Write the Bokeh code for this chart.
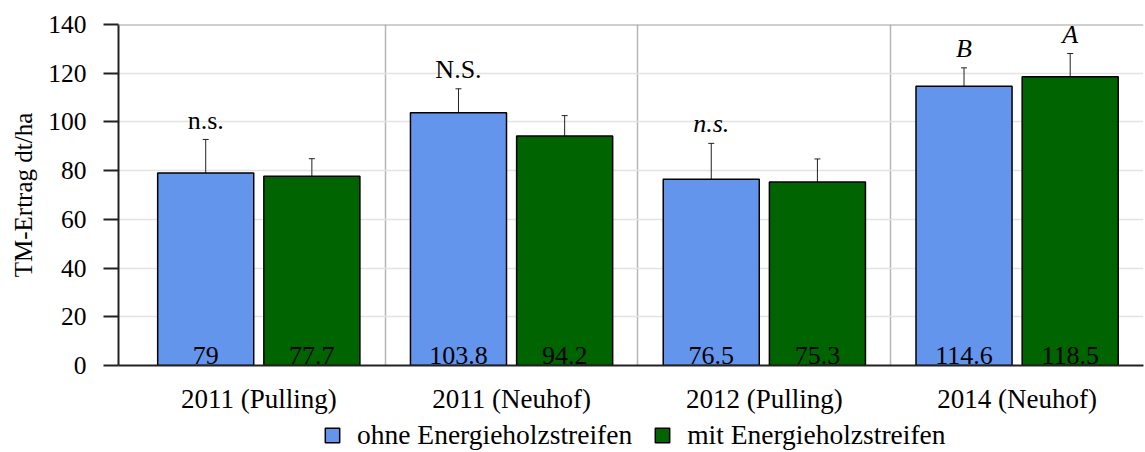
from bokeh.plotting import figure
from bokeh.layouts import column
from bokeh.models import (ColumnDataSource, Range1d, FixedTicker, Whisker, TeeHead,
                          Legend, LegendItem, Span, BoxAnnotation)
from bokeh.transform import dodge
from bokeh.core.properties import value
from bokeh.embed import file_html
from bokeh.resources import INLINE

categories = ["2011 (Pulling)", "2011 (Neuhof)", "2012 (Pulling)", "2014 (Neuhof)"]
ohne = [79.0, 103.8, 76.5, 114.6]
mit = [77.7, 94.2, 75.3, 118.5]
ohne_err = [13.8, 9.8, 14.7, 7.6]
mit_err = [7.2, 8.4, 9.5, 9.6]
ohne_labels = ["79", "103.8", "76.5", "114.6"]
mit_labels = ["77.7", "94.2", "75.3", "118.5"]
sig_text = ["n.s.", "N.S.", "n.s.", "B"]
sig_style = ["normal", "normal", "italic", "italic"]
sig_mit_text = ["", "", "", "A"]
series_names = ["ohne Energieholzstreifen", "mit Energieholzstreifen"]

FONT = "Liberation Serif"
BLUE = "#6495ED"
GREEN = "#006400"
OFF = 0.21
W = 0.38

xs = [i + 0.5 for i in range(len(categories))]

src = ColumnDataSource(dict(
    x=xs, ohne=ohne, mit=mit,
    ohne_lo=[v - e for v, e in zip(ohne, ohne_err)],
    ohne_hi=[v + e for v, e in zip(ohne, ohne_err)],
    mit_lo=[v - e for v, e in zip(mit, mit_err)],
    mit_hi=[v + e for v, e in zip(mit, mit_err)],
    ohne_lab=ohne_labels, mit_lab=mit_labels,
    base=[0.6] * len(xs),
))

p = figure(width=1145, height=420, output_backend="svg", toolbar_location=None,
           x_range=Range1d(-0.055, 4.0), y_range=Range1d(0, 140),
           min_border_left=118, min_border_right=2, min_border_top=24,
           min_border_bottom=55)
p.outline_line_color = None
p.background_fill_color = "white"

r1 = p.vbar(x=dodge("x", -OFF), top="ohne", width=W, source=src,
            fill_color=BLUE, line_color="black", line_width=1.5)
r2 = p.vbar(x=dodge("x", OFF), top="mit", width=W, source=src,
            fill_color=GREEN, line_color="black", line_width=1.5)

for lo, hi, off in (("ohne_lo", "ohne_hi", -OFF), ("mit_lo", "mit_hi", OFF)):
    wk = Whisker(base=dodge("x", off), lower=lo, upper=hi, source=src,
                 line_color="#222222", line_width=1,
                 upper_head=TeeHead(size=6, line_color="#222222", line_width=1),
                 lower_head=TeeHead(size=6, line_color="#222222", line_width=1))
    p.add_layout(wk)

# value labels inside bars
p.text(x=dodge("x", -OFF), y="base", text="ohne_lab", source=src,
       text_font=value(FONT), text_font_size="26px", text_align="center",
       text_baseline="bottom", text_color="black")
p.text(x=dodge("x", OFF), y="base", text="mit_lab", source=src,
       text_font=value(FONT), text_font_size="26px", text_align="center",
       text_baseline="bottom", text_color="black")

# significance labels
for i in range(len(xs)):
    p.text(x=[xs[i] - OFF], y=[ohne[i] + ohne_err[i] + 2.0], text=[sig_text[i]],
           text_font=value(FONT), text_font_size="26px",
           text_font_style=sig_style[i], text_align="center",
           text_baseline="bottom", text_color="black")
    if sig_mit_text[i]:
        p.text(x=[xs[i] + OFF], y=[mit[i] + mit_err[i] + 2.0], text=[sig_mit_text[i]],
               text_font=value(FONT), text_font_size="26px",
               text_font_style="italic", text_align="center",
               text_baseline="bottom", text_color="black")

# grids
p.ygrid.ticker = FixedTicker(ticks=[20, 40, 60, 80, 100, 120])
p.ygrid.grid_line_color = "#e3e3e3"
p.ygrid.grid_line_width = 1.5
p.xgrid.ticker = FixedTicker(ticks=[1, 2, 3])
p.xgrid.grid_line_color = "#b5b5b5"
p.xgrid.grid_line_width = 1.5
p.add_layout(Span(location=140, dimension="width", line_color="#a0a0a0", line_width=2))

# axes
p.yaxis.ticker = FixedTicker(ticks=[0, 20, 40, 60, 80, 100, 120, 140])
p.yaxis.axis_line_color = "#222222"
p.yaxis.axis_line_width = 2
p.yaxis.major_tick_line_color = "#222222"
p.yaxis.major_tick_line_width = 2
p.yaxis.major_tick_out = 15
p.yaxis.major_tick_in = 0
p.yaxis.minor_tick_line_color = None
p.yaxis.major_label_standoff = 17
p.yaxis.major_label_text_font = FONT
p.yaxis.major_label_text_font_size = "25.5px"
p.yaxis.major_label_text_color = "black"
p.yaxis.axis_label = "TM-Ertrag dt/ha"
p.yaxis.axis_label_text_font = FONT
p.yaxis.axis_label_text_font_size = "25px"
p.yaxis.axis_label_text_font_style = "normal"
p.yaxis.axis_label_text_color = "black"
p.yaxis.axis_label_standoff = 8

p.xaxis.ticker = FixedTicker(ticks=xs)
p.xaxis.major_label_overrides = {x: c for x, c in zip(xs, categories)}
p.xaxis.axis_line_color = "#222222"
p.xaxis.axis_line_width = 2
p.xaxis.major_tick_line_color = None
p.xaxis.major_tick_out = 0
p.xaxis.minor_tick_line_color = None
p.xaxis.major_label_standoff = 18
p.xaxis.major_label_text_font = FONT
p.xaxis.major_label_text_font_size = "27px"
p.xaxis.major_label_text_color = "black"

# legend strip below (proxy renderers carry the glyph styles; hidden behind a white cover)
lf = figure(width=1145, height=32, output_backend="svg", toolbar_location=None,
            x_range=Range1d(0, 4), y_range=Range1d(500, 501),
            x_axis_location=None, y_axis_location=None,
            min_border_left=118, min_border_right=2, min_border_top=0,
            min_border_bottom=0)
lf.grid.visible = False
lf.outline_line_color = None
l1 = lf.vbar(x="x", top="ohne", width=W, source=src,
             fill_color=BLUE, line_color="black", line_width=1.5)
l2 = lf.vbar(x="x", top="mit", width=W, source=src,
             fill_color=GREEN, line_color="black", line_width=1.5)
lf.add_layout(BoxAnnotation(fill_color="white", fill_alpha=1.0, line_color=None,
                            line_alpha=0))
legend = Legend(items=[LegendItem(label=series_names[0], renderers=[l1]),
                       LegendItem(label=series_names[1], renderers=[l2])],
                orientation="horizontal", location=(205, 1),
                label_text_font=FONT, label_text_font_size="27.5px",
                label_text_color="black",
                glyph_width=18, glyph_height=18, label_standoff=16, spacing=21,
                padding=0, margin=0, border_line_color=None,
                background_fill_alpha=0)
lf.add_layout(legend, "center")

open("out.html", "w").write(file_html(column(p, lf, spacing=0), INLINE))
